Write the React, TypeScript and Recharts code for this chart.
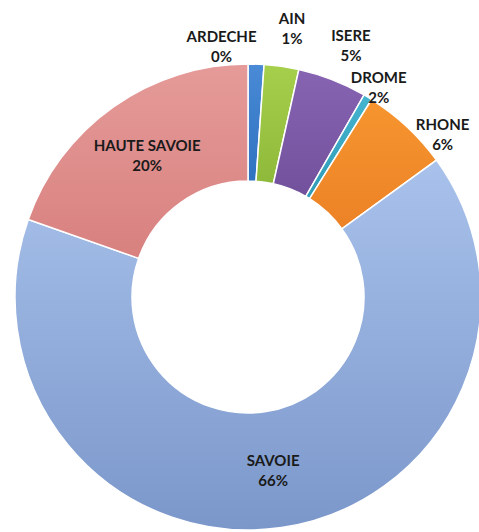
import React from 'react';
import { PieChart, Pie, Cell } from 'recharts';

const regions = ['ARDECHE', 'AIN', 'ISERE', 'DROME', 'RHONE', 'SAVOIE', 'HAUTE SAVOIE'];
const shares = [1.1, 2.4, 4.8, 0.6, 6.1, 65.4, 19.6];
const percentLabels = ['0%', '1%', '5%', '2%', '6%', '66%', '20%'];
const gradientIds = ['gArd', 'gAin', 'gIse', 'gDro', 'gRho', 'gSav', 'gHau'];
const gradientStops: [string, string][] = [
  ['#4a8ad6', '#2f72c0'],
  ['#a6cf4c', '#8fb93a'],
  ['#8764b2', '#72519c'],
  ['#45b4cf', '#2f9bb7'],
  ['#f6952f', '#ec8226'],
  ['#a9c2ec', '#7b97ca'],
  ['#e59b99', '#d8817f'],
];

const data = regions.map((name, i) => ({ name, value: shares[i], pct: percentLabels[i] }));

const RAD = Math.PI / 180;
const outsideLayout: Record<string, { shift: number; extra: number }> = {
  ARDECHE: { shift: -8, extra: 19 },
  AIN: { shift: 1, extra: 40 },
  ISERE: { shift: 1, extra: 39 },
  DROME: { shift: 1, extra: 14 },
  RHONE: { shift: 7, extra: 21 },
};

function renderLabel(props: any) {
  const { cx, cy, midAngle, innerRadius, outerRadius, index } = props;
  const d = data[index];
  const lay = outsideLayout[d.name];
  let angle = midAngle;
  let r = (innerRadius + outerRadius) / 2;
  if (lay) {
    angle = midAngle - lay.shift;
    r = outerRadius + lay.extra;
  }
  const x = cx + r * Math.cos(-angle * RAD);
  const y = cy + r * Math.sin(-angle * RAD);
  return (
    <text
      key={`lbl-${index}`}
      x={x}
      y={y}
      textAnchor="middle"
      fill="#1a1a1a"
      fontFamily="Lato, 'Open Sans', sans-serif"
      fontWeight="bold"
      fontSize={15}
    >
      <tspan x={x} dy={-4}>{d.name}</tspan>
      <tspan x={x} dy={20}>{d.pct}</tspan>
    </text>
  );
}

export default function App() {
  return (
    <div style={{ position: 'absolute', left: 0, top: 0, width: 479, height: 532, background: '#fff' }}>
      <svg width={0} height={0} style={{ position: 'absolute' }}>
        <defs>
          {gradientIds.map((id, i) => (
            <linearGradient key={id} id={id} x1="0" y1="0" x2="0" y2="1">
              <stop offset="0%" stopColor={gradientStops[i][0]} />
              <stop offset="100%" stopColor={gradientStops[i][1]} />
            </linearGradient>
          ))}
        </defs>
      </svg>
      <PieChart width={479} height={532} margin={{ top: 0, right: 0, bottom: 0, left: 0 }}>
        <Pie
          data={data}
          dataKey="value"
          nameKey="name"
          cx={248}
          cy={297}
          innerRadius={116}
          outerRadius={233}
          startAngle={90}
          endAngle={-270}
          stroke="#ffffff"
          strokeWidth={1.5}
          label={renderLabel}
          labelLine={false}
          isAnimationActive={false}
        >
          {data.map((d, i) => (
            <Cell key={d.name} fill={`url(#${gradientIds[i]})`} />
          ))}
        </Pie>
      </PieChart>
    </div>
  );
}
